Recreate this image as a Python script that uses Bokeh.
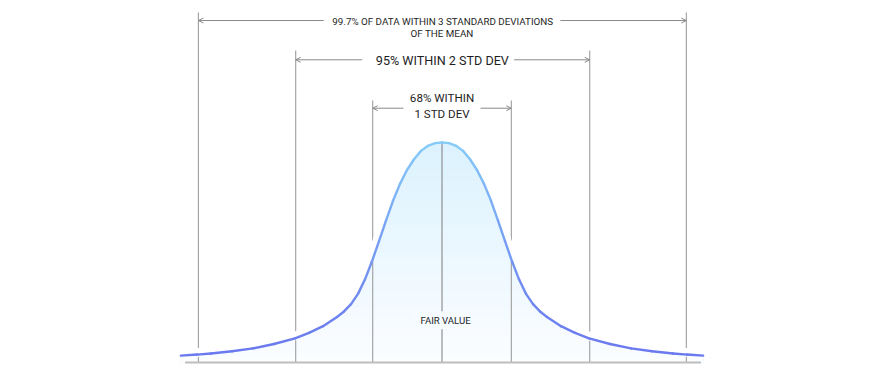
import numpy as np
from bokeh.plotting import figure
from bokeh.models import Range1d, Arrow, OpenHead, ColumnDataSource
from bokeh.core.properties import value
from bokeh.embed import file_html
from bokeh.resources import INLINE

# ---- data (x in standard deviations from the mean, y = relative density) ----
half_x = [0.0, 0.1, 0.2, 0.3, 0.4, 0.5, 0.6, 0.7, 0.8, 0.9, 1.0, 1.1, 1.2, 1.3,
          1.4, 1.5, 1.7, 1.9, 2.1, 2.4, 2.7, 3.0, 3.3, 3.5, 3.73]
half_y = [1.000, 0.997, 0.985, 0.962, 0.924, 0.875, 0.812, 0.735, 0.645, 0.552,
          0.460, 0.378, 0.312, 0.265, 0.232, 0.207, 0.165, 0.135, 0.110, 0.084,
          0.064, 0.051, 0.041, 0.036, 0.031]
curve_x = [-v for v in half_x[:0:-1]] + half_x
curve_y = half_y[:0:-1] + half_y

line_x = [-3.48, -2.09, -0.99, 0.99, 2.11, 3.49]
line_top = [1.591, 1.418, 1.191, 1.191, 1.418, 1.591]
mean_x = [0.0]

arrow_y = [1.5545, 1.3759, 1.1559]
arrow_left = [-3.48, -2.09, -0.99]
arrow_right = [3.49, 2.11, 0.99]
gap_left = [-1.69, -1.14, -0.55]
gap_right = [1.69, 1.03, 0.55]

baseline_x = [-3.67, 3.70]

label_text = ["99.7% OF DATA WITHIN 3 STANDARD DEVIATIONS", "OF THE MEAN",
              "95% WITHIN 2 STD DEV", "68% WITHIN", "1 STD DEV"]
label_x = [0.01, 0.0, 0.005, 0.0, 0.0]
label_y = [1.5523, 1.4941, 1.3705, 1.2023, 1.1318]
label_size = ["9.8px", "9.8px", "12.6px", "11.6px", "11.6px"]

fair_text = ["FAIR VALUE"]
fair_x = [0.05]
fair_y = [0.1923]


def hexmix(c1, c2, t):
    a = [int(c1[i:i + 2], 16) for i in (1, 3, 5)]
    b = [int(c2[i:i + 2], 16) for i in (1, 3, 5)]
    return "#%02x%02x%02x" % tuple(int(round(a[k] + (b[k] - a[k]) * t)) for k in range(3))


FILL_BOTTOM, FILL_TOP = "#fbfdff", "#dcf2fe"
LINE_BOTTOM, LINE_TOP = "#6a78ee", "#86ccf8"

p = figure(width=884, height=383, output_backend="svg", toolbar_location=None,
           x_range=Range1d(-6.307, 6.321), y_range=Range1d(-0.0955, 1.6455),
           min_border=0, outline_line_color=None, background_fill_color="white",
           border_fill_color="white")
p.axis.visible = False
p.xgrid.visible = False
p.ygrid.visible = False

cx = np.array(curve_x)
cy = np.array(curve_y)

# vertical guide lines (full height)
p.segment(x0=line_x, y0=[0] * len(line_x), x1=line_x, y1=line_top,
          line_color="#9d9d9d", line_width=1.1)

# white halo along the curve
p.line(cx, cy, line_color="white", line_width=13, line_cap="round")

# gradient fill under the curve
N = 40
for k in range(N, 0, -1):
    lvl = k / N
    col = hexmix(FILL_BOTTOM, FILL_TOP, (k - 0.5) / N)
    p.varea(x=cx, y1=np.zeros_like(cy), y2=np.minimum(cy, lvl), fill_color=col)

# guide lines inside the filled area
inner_top = np.interp(line_x, cx, cy) - 0.01
p.segment(x0=line_x, y0=[0] * len(line_x), x1=line_x, y1=inner_top,
          line_color="#9d9d9d", line_width=1.1)
p.segment(x0=mean_x, y0=[0], x1=mean_x, y1=[max(curve_y)],
          line_color="#888888", line_width=1.1)

# fair value label with background
bg = hexmix(FILL_BOTTOM, FILL_TOP, fair_y[0])
p.rect(x=[0.0], y=fair_y, width=60, height=18, width_units="screen",
       height_units="screen", fill_color=bg, line_color=None)
p.text(x=fair_x, y=fair_y, text=fair_text, text_align="center",
       text_baseline="middle", text_font=value("Roboto"), text_font_size="9.6px",
       text_color="#1e1e1e", text_font_style="normal")

# gradient curve stroke
segs_x0 = cx[:-1]
segs_x1 = cx[1:]
segs_y0 = cy[:-1]
segs_y1 = cy[1:]
seg_cols = [hexmix(LINE_BOTTOM, LINE_TOP, ((a + b) / 2) ** 1.3) for a, b in zip(segs_y0, segs_y1)]
p.segment(x0=segs_x0, y0=segs_y0, x1=segs_x1, y1=segs_y1, line_color=seg_cols,
          line_width=2.4, line_cap="round")

# baseline
p.line(baseline_x, [0, 0], line_color="#bdbdbd", line_width=1.8)

# arrows
asrc = ColumnDataSource(dict(ay=arrow_y, al=arrow_left, ar=arrow_right,
                             gl=gap_left, gr=gap_right))
for xs, xe in (("gl", "al"), ("gr", "ar")):
    p.add_layout(Arrow(source=asrc, x_start=xs, y_start="ay", x_end=xe, y_end="ay",
                       line_color="#8a8a8a", line_width=1,
                       end=OpenHead(size=5, line_color="#8a8a8a", line_width=1)))

# labels
lsrc = ColumnDataSource(dict(x=label_x, y=label_y, t=label_text, s=label_size))
p.text(x="x", y="y", text="t", text_font_size="s", source=lsrc,
       text_align="center", text_baseline="middle", text_font=value("Roboto"),
       text_color="#1e1e1e")

open("out.html", "w").write(file_html(p, INLINE))
